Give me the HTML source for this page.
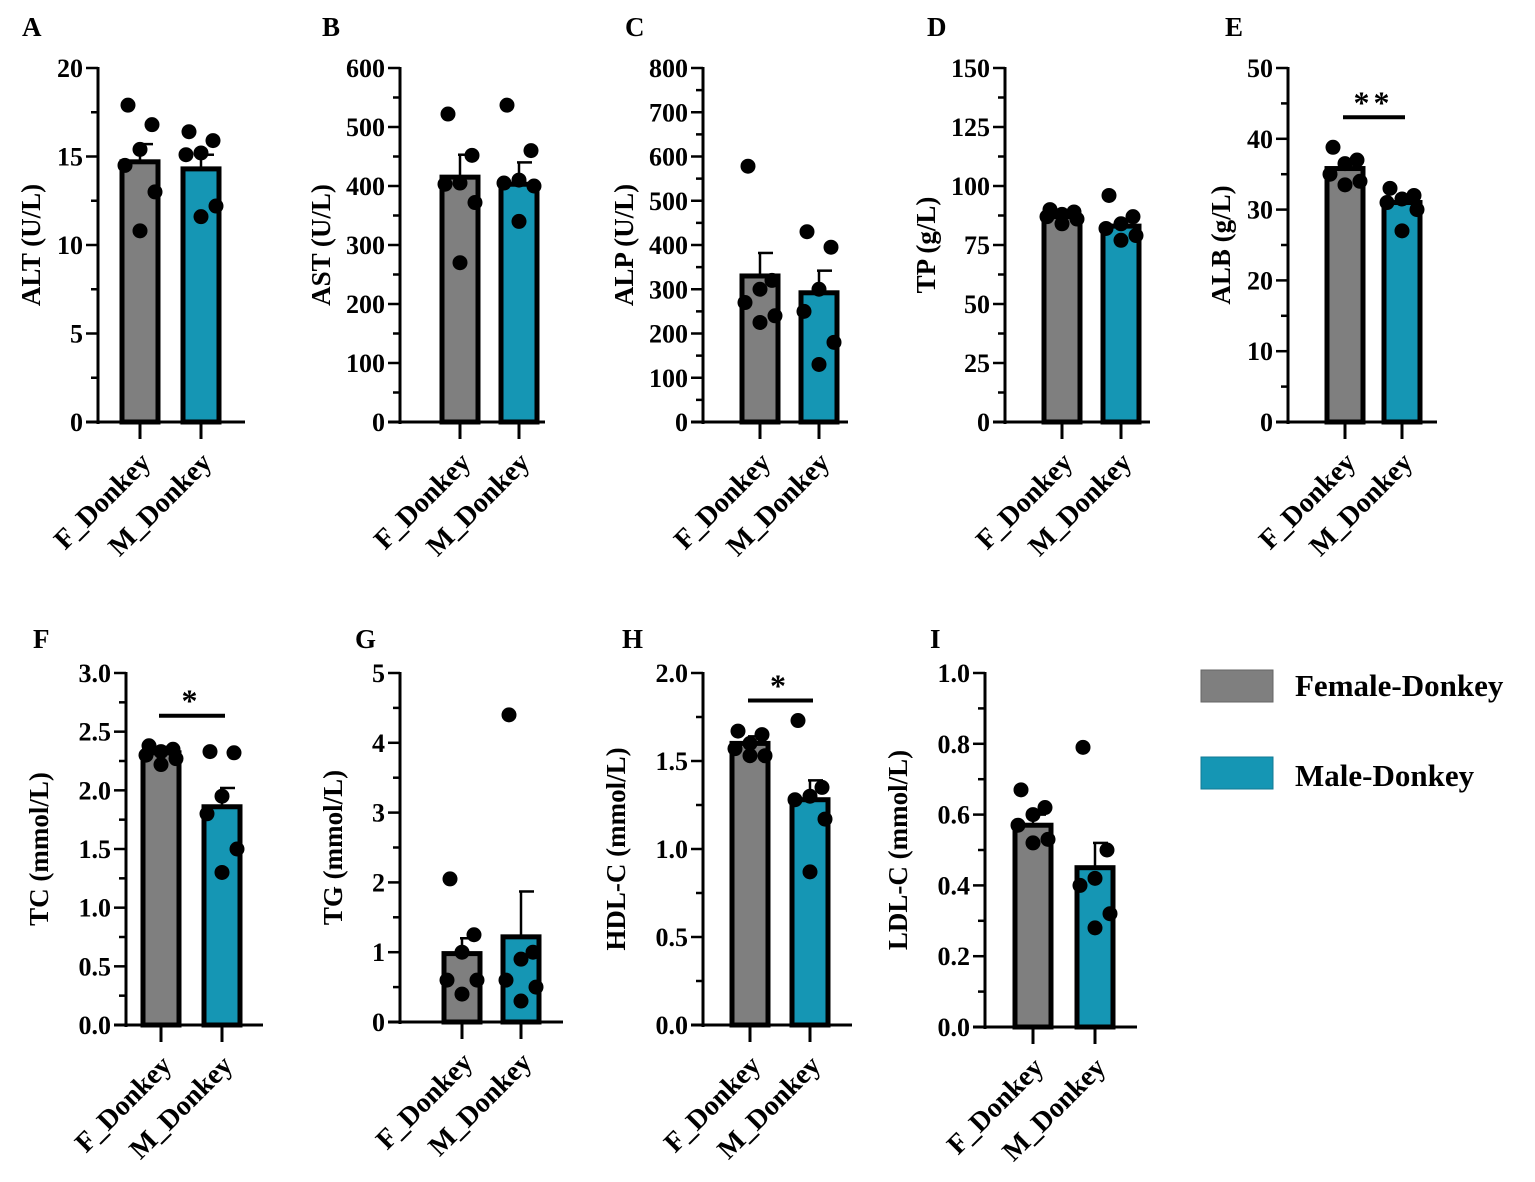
<!DOCTYPE html>
<html><head><meta charset="utf-8"><style>
html,body{margin:0;padding:0;background:#fff;}
svg{display:block;font-family:"Liberation Serif",serif;font-weight:bold;}
</style></head><body>
<svg id="fig" width="1535" height="1182" viewBox="0 0 1535 1182" xmlns="http://www.w3.org/2000/svg">
<g>
<rect x="1201" y="670" width="72" height="32" fill="#7f7f7f" stroke="#666" stroke-width="1"/>
<text x="1295" y="696" font-size="31">Female-Donkey</text>
<rect x="1201" y="757" width="72" height="32" fill="#1596b4" stroke="#127a95" stroke-width="1"/>
<text x="1295" y="786" font-size="31">Male-Donkey</text>
</g>
</svg>
<script>
const panelLetters=["A","B","C","D","E","F","G","H","I"];
const yTitles=["ALT (U/L)","AST (U/L)","ALP (U/L)","TP (g/L)","ALB (g/L)","TC (mmol/L)","TG (mmol/L)","HDL-C (mmol/L)","LDL-C (mmol/L)"];
const categories=["F_Donkey","M_Donkey"];
const yMax=[20,600,800,150,50,3,5,2,1];
const yStep=[5,100,100,25,10,0.5,1,0.5,0.2];
const tickDecimals=[0,0,0,0,0,1,0,1,1];
const femaleMean=[14.7,415,330,87,35.8,2.32,0.98,1.6,0.57];
const maleMean=[14.3,403,292,83,31,1.86,1.22,1.28,0.45];
const femaleSem=[1.0,38,52,2,1,0.05,0.22,0.04,0.03];
const maleSem=[0.8,37,50,3,1,0.16,0.65,0.11,0.07];
const femalePoints=[[17.9,16.8,15.4,14.5,13,10.8],[522,452,405,403,372,270],[578,320,300,270,240,225],[90,89,88,87,86,84],[38.8,37,36.5,35,34,33.5],[2.38,2.35,2.33,2.3,2.27,2.22],[2.05,1.25,1.0,0.6,0.6,0.4],[1.67,1.65,1.6,1.57,1.53,1.53],[0.67,0.62,0.6,0.57,0.53,0.52]];
const malePoints=[[16.4,15.9,15.2,15.1,12.2,11.6],[537,460,410,405,400,340],[430,395,300,250,180,130],[96,87,84,82,79,77],[33,32,31.5,31,30,27],[2.33,2.32,1.95,1.8,1.5,1.3],[4.4,1.0,0.9,0.6,0.5,0.3],[1.73,1.35,1.3,1.28,1.17,0.87],[0.79,0.5,0.42,0.4,0.32,0.28]];
const significance=["","","","","**","*","","*",""];
// layout (not data)
const layout=[
 {ax:98,top:68,bot:422,c1:140,c2:201,end:245,lx:22,ly:36},
 {ax:400,top:68,bot:422,c1:460,c2:519,end:545,lx:322,ly:36},
 {ax:703,top:68,bot:422,c1:760,c2:819,end:848,lx:625,ly:36},
 {ax:1005,top:68,bot:422,c1:1062,c2:1121,end:1150,lx:927,ly:36},
 {ax:1288,top:68,bot:422,c1:1345,c2:1402,end:1437,lx:1225,ly:36},
 {ax:126,top:673,bot:1025,c1:161,c2:222,end:263,lx:33,ly:648},
 {ax:400,top:673,bot:1022,c1:462,c2:521,end:563,lx:355,ly:648},
 {ax:703,top:673,bot:1025,c1:750,c2:810,end:852,lx:622,ly:648},
 {ax:985,top:673,bot:1027,c1:1033,c2:1095,end:1137,lx:930,ly:648}];
const jitter=[-12,12,0,-15,15,0];
const NS="http://www.w3.org/2000/svg";
const svg=document.getElementById('fig');
function mk(tag,attrs,parent){const e=document.createElementNS(NS,tag);for(const k in attrs)e.setAttribute(k,attrs[k]);(parent||svg).appendChild(e);return e;}
for(let p=0;p<9;p++){
 const L=layout[p];
 const g=mk('g',{});
 
 
 const y=v=>L.bot-(v/yMax[p])*(L.bot-L.top);
 const lt=mk('text',{x:L.lx,y:L.ly,'font-size':27},g);lt.textContent=panelLetters[p];
 
 
 const means=[femaleMean[p],maleMean[p]],sems=[femaleSem[p],maleSem[p]],pts=[femalePoints[p],malePoints[p]],cx=[L.c1,L.c2],cols=["#7f7f7f","#1596b4"];
 for(let i=0;i<2;i++){
  const b=mk('rect',{x:cx[i]-18,y:y(means[i]),width:36,height:L.bot-y(means[i]),fill:cols[i],stroke:'#000','stroke-width':5},g);
  
  
  const ey=y(means[i]+sems[i]);
  const e1=mk('line',{x1:cx[i],x2:cx[i],y1:y(means[i]),y2:ey,stroke:'#000','stroke-width':2.5},g);
  
  
  mk('line',{x1:cx[i]-2,x2:cx[i]+13,y1:ey,y2:ey,stroke:'#000','stroke-width':2.5},g);
  pts[i].forEach((v,k)=>{const c=mk('circle',{cx:cx[i]+jitter[k],cy:y(v),r:7.5,fill:'#000'},g);
   
   });
 }
 const ya=mk('line',{x1:L.ax,x2:L.ax,y1:L.top-1,y2:L.bot+2,stroke:'#000','stroke-width':3},g);
 
 
 const xa=mk('line',{x1:L.ax-12,x2:L.end,y1:L.bot,y2:L.bot,stroke:'#000','stroke-width':3},g);
 
 
 const n=Math.round(yMax[p]/yStep[p]);
 for(let k=0;k<=n;k++){
  const v=k*yStep[p],yy=y(v);
  mk('line',{x1:L.ax-12,x2:L.ax,y1:yy,y2:yy,stroke:'#000','stroke-width':2.5},g);
  const t=mk('text',{x:L.ax-15,y:yy+9,'font-size':26,'text-anchor':'end'},g);
  t.textContent=v.toFixed(tickDecimals[p]);
  
  
  if(k<n){const ym=y(v+yStep[p]/2);mk('line',{x1:L.ax-7,x2:L.ax,y1:ym,y2:ym,stroke:'#000','stroke-width':2.5},g);}
 }
 const tx = L.ax - (tickDecimals[p]?78:(yMax[p]>=100?70:58));
 const yt=mk('text',{transform:`translate(${tx},${(L.top+L.bot)/2}) rotate(-90)`,'font-size':27,'text-anchor':'middle'},g);
 yt.textContent=yTitles[p];
 
 
 for(let i=0;i<2;i++){
  mk('line',{x1:cx[i],x2:cx[i],y1:L.bot,y2:L.bot+17,stroke:'#000','stroke-width':3},g);
  const cl=mk('text',{transform:`translate(${cx[i]+12},${L.bot+42}) rotate(-45)`,'font-size':28,'text-anchor':'end'},g);
  cl.textContent=categories[i];
  
  
 }
 if(significance[p]){
  const sy=Math.min(y(Math.max(...femalePoints[p]))-30,y(Math.max(...malePoints[p]))-20);
  const sl=mk('line',{x1:L.c1-2,x2:L.c2+3,y1:sy,y2:sy,stroke:'#000','stroke-width':4},g);
  
  
  const st=mk('text',{x:(L.c1+L.c2)/2,y:sy-4,'font-size':32,'text-anchor':'middle','letter-spacing':4},g);
  st.textContent=significance[p];
  
  
 }
}
</script>
</body></html>
